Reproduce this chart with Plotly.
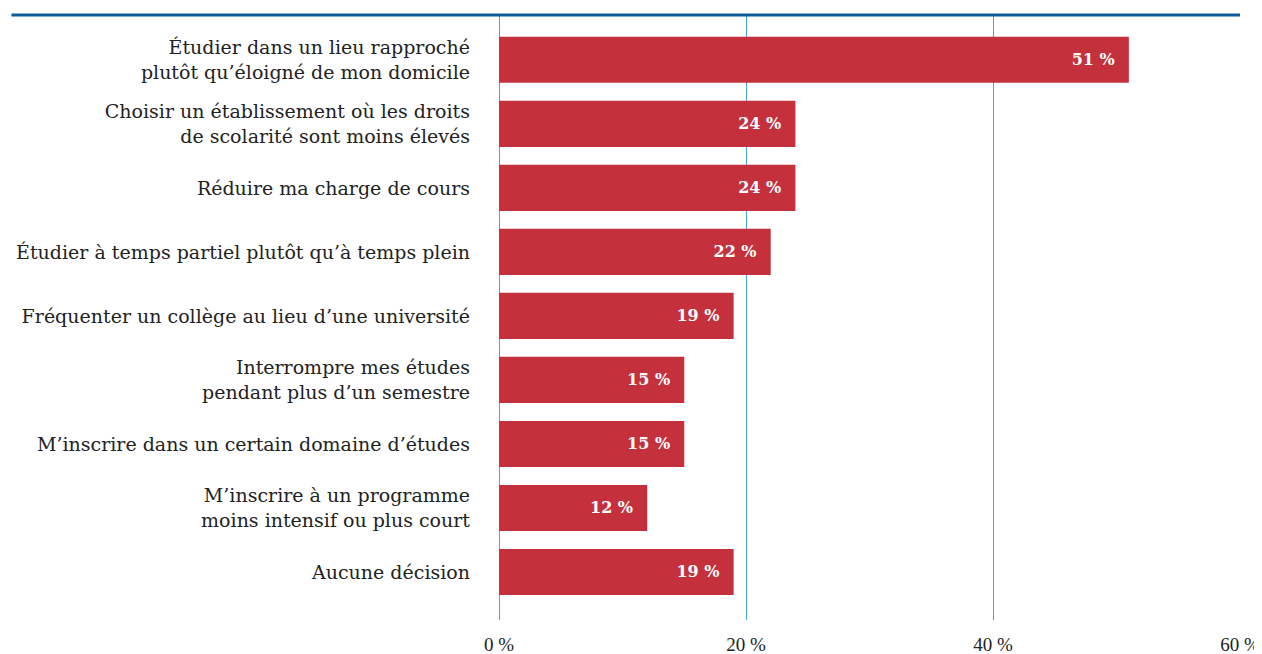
import plotly.graph_objects as go

categories = [
    "Étudier dans un lieu rapproché<br>plutôt qu’éloigné de mon domicile",
    "Choisir un établissement où les droits<br>de scolarité sont moins élevés",
    "Réduire ma charge de cours",
    "Étudier à temps partiel plutôt qu’à temps plein",
    "Fréquenter un collège au lieu d’une université",
    "Interrompre mes études<br>pendant plus d’un semestre",
    "M’inscrire dans un certain domaine d’études",
    "M’inscrire à un programme<br>moins intensif ou plus court",
    "Aucune décision",
]
values = [51, 24, 24, 22, 19, 15, 15, 12, 19]
bar_labels = [f"{v} %" for v in values]
tick_vals = [0, 20, 40, 60]
tick_text = ["0 %", "20 %", "40 %", "60 %"]

SERIF = "DejaVu Serif"

fig = go.Figure(go.Bar(
    x=values, y=categories, orientation="h",
    marker=dict(color="#C4303C", line=dict(width=0)),
    text=bar_labels, texttemplate="%{text}\u00a0\u00a0",
    textposition="inside", insidetextanchor="end",
    textfont=dict(family=SERIF, size=16, color="white", weight="bold"),
    width=0.72, cliponaxis=False,
))

# page body has an 8px margin: figure sized so it ends at the window edge
fig.update_layout(
    width=1254, height=646,
    margin=dict(l=491, r=22, t=7, b=34, autoexpand=False),
    plot_bgcolor="white", paper_bgcolor="white",
    showlegend=False,
    font=dict(family=SERIF, color="#222222", size=19),
    shapes=[dict(type="line", xref="paper", yref="paper", x0=-0.658, x1=1.0,
                 y0=1, y1=1, line=dict(color="#0E5C99", width=3))],
)
fig.update_xaxes(
    range=[0, 60], tickvals=tick_vals, ticktext=tick_text,
    showgrid=True, gridcolor="#3FA9DB", gridwidth=1,
    zeroline=True, zerolinecolor="#3FA9DB", zerolinewidth=1,
    showline=False, ticks="", ticklabelstandoff=11,
    ticklabeloverflow="allow",
    tickfont=dict(family="Liberation Serif", size=19, color="#222222"),
    fixedrange=True,
)
fig.update_yaxes(
    range=[8.75, -0.70], showgrid=False, zeroline=False, showline=False,
    ticks="", ticklabelstandoff=28,
    tickfont=dict(family=SERIF, size=19, color="#222222"),
)

fig.write_html("out.html")
